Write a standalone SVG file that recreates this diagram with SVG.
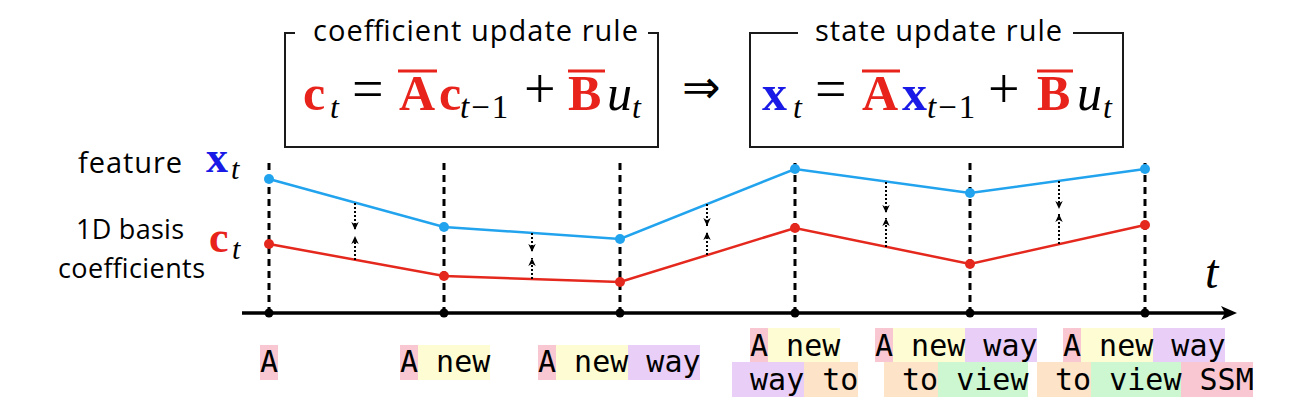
<svg xmlns="http://www.w3.org/2000/svg" width="1300" height="418" viewBox="0 0 1300 418">
<defs>
<marker id="ah" markerUnits="userSpaceOnUse" markerWidth="9" markerHeight="9" refX="8" refY="4.5" orient="auto"><path d="M0,0.8 L8,4.5 L0,8.2 L2.2,4.5 Z" fill="#000"/></marker>
</defs>
<style>
.lbl{font-family:"Open Sans","Liberation Sans",sans-serif;font-size:29px;fill:#000}
.sm{font-size:27px}
.m{font-family:"Liberation Serif","DejaVu Serif",serif;fill:#000}
.b{font-weight:bold}
.i{font-style:italic}
.red{fill:#e8231b}
.blue{fill:#1a1ae6}
.bar{stroke:#e8231b;stroke-width:3}
.tok{font-family:"DejaVu Sans Mono","Liberation Mono",monospace;font-size:30px;fill:#000}
.box{fill:none;stroke:#1a1a1a;stroke-width:2}
.dash{stroke:#000;stroke-width:3;stroke-dasharray:7 5}
.dot{stroke:#000;stroke-width:2;stroke-dasharray:2 2;marker-end:url(#ah)}
.pk{fill:#f9c7d1}.yl{fill:#fdfcd2}.pu{fill:#e9cff7}.pe{fill:#fde4c9}.gr{fill:#ccf7d0}
</style>
<rect width="1300" height="418" fill="#fff"/>

<g id="coefficient-rule">
<path class="box" d="M295,33 H285 V147 H658 V33 H648"/>
<text class="lbl" x="313" y="41" textLength="325">coefficient update rule</text>
<text class="m b red" font-size="50" x="303" y="110">c</text>
<text class="m i" font-size="32" x="330" y="118">t</text>
<text class="m" font-size="56" x="352" y="108">=</text>
<text class="m b red" font-size="50" x="399" y="110">A</text>
<line class="bar" x1="398" y1="71" x2="437" y2="71"/>
<text class="m b red" font-size="50" x="439" y="110">c</text>
<text class="m" font-size="33" x="460" y="118"><tspan class="i">t</tspan><tspan dx="2">−</tspan><tspan dx="2">1</tspan></text>
<text class="m" font-size="56" x="524" y="108">+</text>
<text class="m b red" font-size="50" x="568" y="110">B</text>
<line class="bar" x1="568" y1="71" x2="605" y2="71"/>
<text class="m i" font-size="50" x="607" y="110">u</text>
<text class="m i" font-size="32" x="632" y="118">t</text>
</g>

<g id="implies">
<text font-family="DejaVu Sans, sans-serif" font-size="46" x="682" y="103">⇒</text>
</g>

<g id="state-rule">
<path class="box" d="M798,33 H750 V147 H1123 V33 H1073"/>
<text class="lbl" x="815" y="41" textLength="247">state update rule</text>
<text class="m b blue" font-size="50" x="762" y="110">x</text>
<text class="m i" font-size="32" x="793" y="118">t</text>
<text class="m" font-size="56" x="815" y="108">=</text>
<text class="m b red" font-size="50" x="862" y="110">A</text>
<line class="bar" x1="862" y1="71" x2="900" y2="71"/>
<text class="m b blue" font-size="50" x="902" y="110">x</text>
<text class="m" font-size="33" x="927" y="118"><tspan class="i">t</tspan><tspan dx="2">−</tspan><tspan dx="2">1</tspan></text>
<text class="m" font-size="56" x="988" y="108">+</text>
<text class="m b red" font-size="50" x="1037" y="110">B</text>
<line class="bar" x1="1037" y1="71" x2="1073" y2="71"/>
<text class="m i" font-size="50" x="1077" y="110">u</text>
<text class="m i" font-size="32" x="1103" y="118">t</text>
</g>

<g id="labels">
<text class="lbl" x="78" y="173" textLength="104">feature</text>
<text class="m b blue" font-size="44" x="206" y="172">x</text>
<text class="m i" font-size="30" x="231" y="179">t</text>
<text class="lbl sm" x="76" y="239" textLength="108">1D basis</text>
<text class="lbl sm" x="58" y="278" textLength="147">coefficients</text>
<text class="m b red" font-size="44" x="209" y="252">c</text>
<text class="m i" font-size="30" x="232" y="259">t</text>
<text class="m i" font-size="48" x="1205" y="288">t</text>
</g>

<g id="connectors">
<g id="axis">
<line x1="242" y1="313" x2="1226" y2="313" stroke="#000" stroke-width="3.5"/>
<path d="M1221,306 L1237,313 L1221,320 L1225,313 Z" fill="#000"/>
</g>
<g id="time-steps">
<line class="dash" x1="269" y1="163" x2="269" y2="313"/>
<line class="dash" x1="444" y1="163" x2="444" y2="313"/>
<line class="dash" x1="620" y1="163" x2="620" y2="313"/>
<line class="dash" x1="795" y1="163" x2="795" y2="313"/>
<line class="dash" x1="970" y1="163" x2="970" y2="313"/>
<line class="dash" x1="1145" y1="163" x2="1145" y2="313"/>
<g fill="#000">
<circle cx="269" cy="313" r="4.5"/><circle cx="444" cy="313" r="4.5"/><circle cx="620" cy="313" r="4.5"/>
<circle cx="795" cy="313" r="4.5"/><circle cx="970" cy="313" r="4.5"/><circle cx="1145" cy="313" r="4.5"/>
</g>
</g>
<g id="feature-line">
<polyline points="269,179 444,227 620,239 795,169 970,193 1145,169" fill="none" stroke="#22a3ee" stroke-width="2.5"/>
<g fill="#22a3ee">
<circle cx="269" cy="179" r="5"/><circle cx="444" cy="227" r="5"/><circle cx="620" cy="239" r="5"/>
<circle cx="795" cy="169" r="5"/><circle cx="970" cy="193" r="5"/><circle cx="1145" cy="169" r="5"/>
</g>
</g>
<g id="coefficient-line">
<polyline points="269,244 444,276 620,282 795,228 970,264 1145,225" fill="none" stroke="#e5281d" stroke-width="2.5"/>
<g fill="#e5281d">
<circle cx="269" cy="244" r="5"/><circle cx="444" cy="276" r="5"/><circle cx="620" cy="282" r="5"/>
<circle cx="795" cy="228" r="5"/><circle cx="970" cy="264" r="5"/><circle cx="1145" cy="225" r="5"/>
</g>
</g>
<g id="projections">
<line class="dot" x1="355" y1="203" x2="355" y2="230"/>
<line class="dot" x1="355" y1="260" x2="355" y2="236"/>
<line class="dot" x1="532" y1="233" x2="532" y2="252"/>
<line class="dot" x1="532" y1="279" x2="532" y2="258"/>
<line class="dot" x1="707" y1="204" x2="707" y2="226"/>
<line class="dot" x1="707" y1="255" x2="707" y2="232"/>
<line class="dot" x1="886" y1="182" x2="886" y2="213"/>
<line class="dot" x1="886" y1="247" x2="886" y2="218"/>
<line class="dot" x1="1059" y1="181" x2="1059" y2="209"/>
<line class="dot" x1="1059" y1="244" x2="1059" y2="214"/>
</g>
</g>

<g id="tokens-1">
<rect class="pk" x="260" y="345" width="18" height="35"/>
<text class="tok" x="260" y="372" xml:space="preserve">A</text>
</g>
<g id="tokens-2">
<rect class="pk" x="400" y="345" width="18" height="35"/>
<rect class="yl" x="418" y="345" width="72" height="35"/>
<text class="tok" x="400" y="372" xml:space="preserve">A new</text>
</g>
<g id="tokens-3">
<rect class="pk" x="538" y="345" width="18" height="35"/>
<rect class="yl" x="556" y="345" width="72" height="35"/>
<rect class="pu" x="628" y="345" width="72" height="35"/>
<text class="tok" x="538" y="372" xml:space="preserve">A new way</text>
</g>
<g id="tokens-4">
<rect class="pk" x="750" y="328" width="18" height="34"/>
<rect class="yl" x="768" y="328" width="72" height="34"/>
<rect class="pu" x="732" y="362" width="72" height="35"/>
<rect class="pe" x="804" y="362" width="54" height="35"/>
<text class="tok" x="750" y="356" xml:space="preserve">A new</text>
<text class="tok" x="732" y="390" xml:space="preserve"> way to</text>
</g>
<g id="tokens-5">
<rect class="pk" x="875" y="328" width="18" height="34"/>
<rect class="yl" x="893" y="328" width="72" height="34"/>
<rect class="pu" x="965" y="328" width="72" height="34"/>
<rect class="pe" x="884" y="362" width="54" height="35"/>
<rect class="gr" x="938" y="362" width="90" height="35"/>
<text class="tok" x="875" y="356" xml:space="preserve">A new way</text>
<text class="tok" x="884" y="390" xml:space="preserve"> to view</text>
</g>
<g id="tokens-6">
<rect class="pk" x="1063" y="328" width="18" height="34"/>
<rect class="yl" x="1081" y="328" width="72" height="34"/>
<rect class="pu" x="1153" y="328" width="72" height="34"/>
<rect class="pe" x="1037" y="362" width="54" height="35"/>
<rect class="gr" x="1091" y="362" width="90" height="35"/>
<rect class="pk" x="1181" y="362" width="72" height="35"/>
<text class="tok" x="1063" y="356" xml:space="preserve">A new way</text>
<text class="tok" x="1037" y="390" xml:space="preserve"> to view SSM</text>
</g>
</svg>
